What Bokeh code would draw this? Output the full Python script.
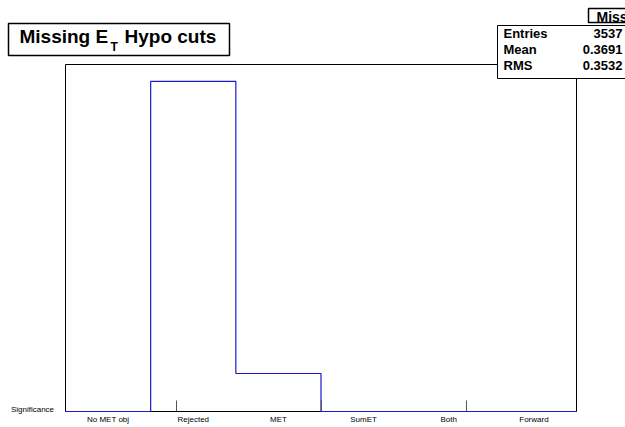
from bokeh.plotting import figure
from bokeh.models import Label, Range1d
from bokeh.embed import file_html
from bokeh.resources import INLINE

categories = ["No MET obj", "Rejected", "MET", "SumET", "Both", "Forward"]
counts = [0, 3172, 365, 0, 0, 0]
stats_names = ["Entries", "Mean", "RMS"]
stats_values = ["3537", "0.3691", "0.3532"]

ymax = 3335
px = 6 / 511          # data units per pixel, x
py = ymax / 347       # data units per pixel, y
FONT = "Liberation Sans"

# the whole canvas is the data frame; the histogram frame is drawn as a box
p = figure(width=625, height=427, output_backend="svg", toolbar_location=None,
           x_range=Range1d(-65 * px, (625 - 65) * px),
           y_range=Range1d(-16 * py, ymax + 64 * py),
           min_border=0)
p.axis.visible = False
p.grid.visible = False
p.outline_line_color = None

p.quad(left=0, right=6, bottom=0, top=ymax, fill_color=None, line_color="black", line_width=1)

# histogram outline as a step line
xs, ys = [], []
for i, c in enumerate(counts):
    xs += [i, i + 1]
    ys += [c, c]
p.line(xs, ys, line_color="#1a1acc", line_width=1.2)

# ticks on the bottom edge
for xt in [(176 - 65) * px, (321 - 65) * px, (466 - 65) * px]:
    p.segment(xt, 0, xt, 11 * py, line_color="#555555")


def lab(x, y, text, size, bold=False, align="left"):
    p.add_layout(Label(x=(x - 65) * px, y=(411 - y) * py, text=text, text_font_size=size,
                       text_font_style="bold" if bold else "normal", text_font=FONT,
                       text_color="black", text_baseline="middle", text_align=align))


for i, name in enumerate(categories):
    lab(65 + (i + 0.5) * 511 / 6, 419, name, "8px", align="center")
lab(32, 409, "Significance", "8px", align="center")

# title box
p.quad(left=(8 - 65) * px, right=(229 - 65) * px, bottom=(411 - 55) * py, top=(411 - 23) * py,
       fill_color="white", line_color="black", line_width=1.5)
lab(19, 36, "Missing E", "19px", bold=True)
lab(110, 46, "T", "12px", bold=True)
lab(124, 36, "Hypo cuts", "19px", bold=True)

# clipped box at top right
p.quad(left=(588 - 65) * px, right=(640 - 65) * px, bottom=(411 - 22) * py, top=(411 - 8) * py,
       fill_color="white", line_color="black", line_width=1.5)
lab(596, 16, "Missing", "14px", bold=True)

# stats box
p.quad(left=(497 - 65) * px, right=(640 - 65) * px, bottom=(411 - 78) * py, top=(411 - 25) * py,
       fill_color="white", line_color="black", line_width=1)
for k, (n, v) in enumerate(zip(stats_names, stats_values)):
    lab(503, 33 + 16 * k, n, "13px", bold=True)
    lab(622, 33 + 16 * k, v, "13px", bold=True, align="right")

open("out.html", "w").write(file_html(p, INLINE))
